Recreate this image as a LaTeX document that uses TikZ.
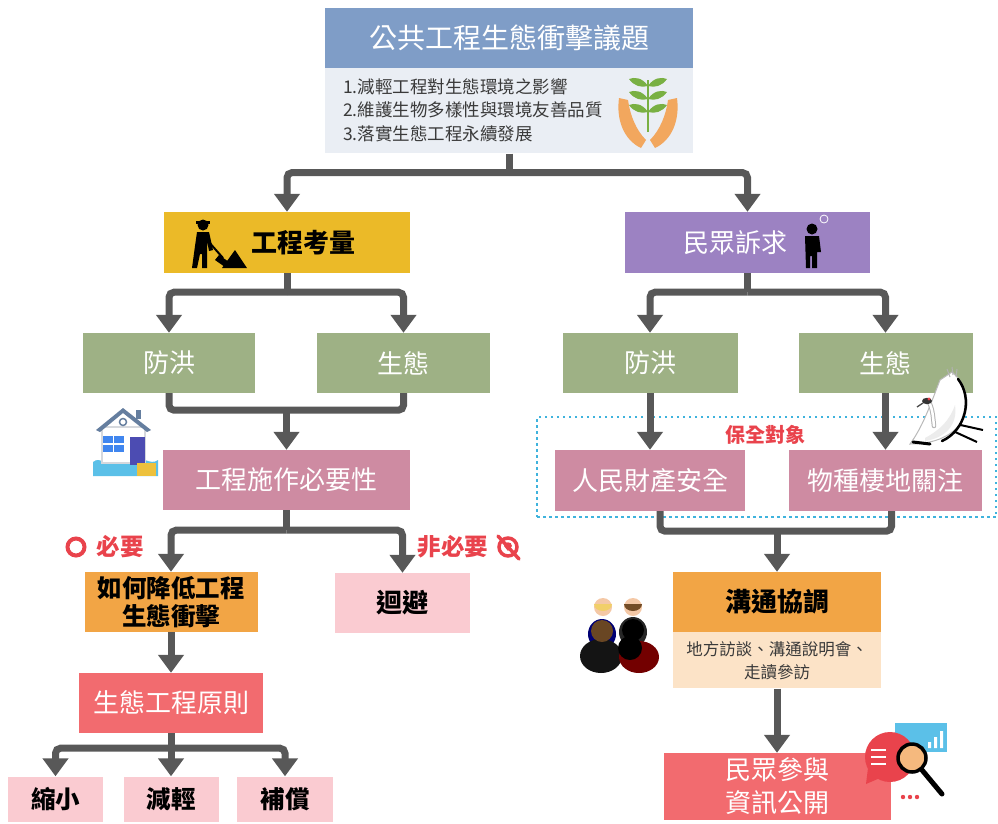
\documentclass[tikz,border=0pt]{standalone}
\usepackage{fontspec}
\setmainfont{Noto Sans CJK TC}
\usetikzlibrary{arrows.meta}
\definecolor{cTitle}{HTML}{7F9DC7}
\definecolor{cPanel}{HTML}{EAEEF4}
\definecolor{cYellow}{HTML}{EBBA28}
\definecolor{cPurple}{HTML}{9C82C2}
\definecolor{cGreen}{HTML}{9EB185}
\definecolor{cMauve}{HTML}{CE8BA2}
\definecolor{cOrange}{HTML}{F2A545}
\definecolor{cPink}{HTML}{FACBD1}
\definecolor{cSalmon}{HTML}{F26B6F}
\definecolor{cPeach}{HTML}{FCE3C7}
\definecolor{cArrow}{HTML}{585858}
\definecolor{cRed}{HTML}{E9434C}
\definecolor{cDot}{HTML}{3FB3DD}
\definecolor{cText}{HTML}{3A3A3A}
\definecolor{cSkin}{HTML}{F4C8A6}
\definecolor{cHand}{HTML}{F2A75E}
\definecolor{cLeaf}{HTML}{79B043}
\definecolor{cSky}{HTML}{5BC0E8}

\begin{document}
\begin{tikzpicture}[x=1pt,y=-1pt,
  flowbox/.style={rectangle, inner sep=0pt, align=center, font=\fontsize{26}{32}\selectfont},
  wbox/.style={flowbox, text=white},
  kbox/.style={flowbox, text=black, font=\bfseries\fontsize{26}{32}\selectfont},
  flowline/.style={draw=cArrow, line width=7pt},
  flowarrow/.style={flowline, rounded corners=5pt, -{Triangle[width=25pt,length=18pt]}},
  redlabel/.style={text=cRed, inner sep=0pt, font=\bfseries\fontsize{23.5}{26}\selectfont},
]
\useasboundingbox (0,0) rectangle (998,823);

% ---------- title block ----------
\node[wbox, fill=cTitle, minimum width=368pt, minimum height=60pt,
      font=\fontsize{28}{32}\selectfont] (t1) at (509,38) {公共工程生態衝擊議題};
\node[flowbox, fill=cPanel, minimum width=368pt, minimum height=85pt, anchor=north] (t2) at (t1.south) {};
\node[anchor=west, align=left, inner sep=0pt, text=cText,
      font=\fontsize{17.5}{23.5}\selectfont] (goals) at (343,110)
  {1.減輕工程對生態環境之影響\\2.維護生物多樣性與環境友善品質\\3.落實生態工程永續發展};
% hands holding a seedling
\fill[cHand] (619,98) .. controls (616,120) and (624,140) .. (641,148) -- (646,140)
  .. controls (636,130) and (630,115) .. (628,100) -- cycle;
\fill[cHand] (677,98) .. controls (680,120) and (672,140) .. (655,148) -- (650,140)
  .. controls (660,130) and (666,115) .. (668,100) -- cycle;
\draw[cLeaf, line width=2.5pt] (648,132) -- (648,80);
\foreach \y in {86,99,112}{
  \fill[cLeaf] (648,\y) .. controls (642,\y-9) and (634,\y-9) .. (629,\y-7)
    .. controls (634,\y) and (641,\y+2) .. (648,\y) -- cycle;
  \fill[cLeaf] (648,\y) .. controls (654,\y-9) and (662,\y-9) .. (667,\y-7)
    .. controls (662,\y) and (655,\y+2) .. (648,\y) -- cycle;
}

% ---------- second level ----------
\node[kbox, fill=cYellow, minimum width=246pt, minimum height=61pt] (kl) at (287,242.5)
  {\hspace*{32pt}工程考量};
\node[wbox, fill=cPurple, minimum width=245pt, minimum height=61pt] (mq) at (747.5,242.5)
  {民眾訴求\hspace*{24pt}};

% worker with shovel
\fill[black] (203,225) circle (5.5pt);
\fill[black] (196,221) rectangle (210,224);
\fill[black] (197,232) -- (209,232) -- (213,250) -- (209,251) -- (207,241) -- (207,268)
  -- (202,268) -- (202,254) -- (200,254) -- (197,268) -- (192,268) -- (195,246) -- cycle;
\draw[black, line width=2pt] (208,241) -- (223,258);
\fill[black] (219,255) -- (229,262) -- (225,267) -- (215,260) -- cycle;
\fill[black] (222,268) -- (235,250) -- (247,268) -- cycle;

% person asking
\fill[black] (812,229) circle (5.5pt);
\fill[black] (805,236) -- (819,236) -- (821,252) -- (817,252) -- (817,268) -- (812,268)
  -- (812,256) -- (810,256) -- (810,268) -- (806,268) -- cycle;
\draw[white, line width=0.8pt] (824,219) circle (4pt);

% ---------- third level ----------
\node[wbox, fill=cGreen, minimum width=172pt, minimum height=60pt] (fa) at (169,363) {防洪};
\node[wbox, fill=cGreen, minimum width=173pt, minimum height=60pt] (sa) at (403.5,363) {生態};
\node[wbox, fill=cGreen, minimum width=175pt, minimum height=60pt] (fb) at (650,363) {防洪};
\node[wbox, fill=cGreen, minimum width=174pt, minimum height=60pt] (sb) at (885.5,363) {生態};

% ---------- protected targets zone ----------
\node[draw=cDot, line width=2.5pt, dash pattern=on 2.5pt off 3.5pt, rectangle, inner sep=0pt,
      minimum width=459pt, minimum height=100pt] (zone) at (766.5,467) {};
\node[redlabel, font=\bfseries\fontsize{20}{24}\selectfont] (keep) at (765,435) {保全對象};

\node[wbox, fill=cMauve, minimum width=247pt, minimum height=60pt] (need) at (286.5,480) {工程施作必要性};
\node[wbox, fill=cMauve, minimum width=190pt, minimum height=61pt] (pp) at (650,480.5) {人民財產安全};
\node[wbox, fill=cMauve, minimum width=193pt, minimum height=61pt] (hb) at (885.5,480.5) {物種棲地關注};

% flooded house
\fill[cSky] (93,462) .. controls (100,456) and (106,466) .. (113,460)
  .. controls (120,455) and (126,466) .. (134,460) .. controls (142,455) and (150,466) .. (158,460)
  -- (158,476) -- (93,476) -- cycle;
\fill[cPanel!80!gray] (101,426) rectangle (146,464);
\fill[white] (103,428) rectangle (144,462);
\fill[cSky!70!blue] (103,436) rectangle (124,452);
\draw[white, line width=1.2pt] (113.5,436) -- (113.5,452) (103,444) -- (124,444);
\fill[blue!40!gray] (130,437) rectangle (145,465);
\fill[cTitle!80!black] (96,430) -- (123,408) -- (151,430) -- (147,432) -- (123,413) -- (100,432) -- cycle;
\fill[cTitle!80!black] (136,410) rectangle (141,419);
\draw[cTitle!80!black, line width=1.5pt] (123,422) circle (3.5pt);
\fill[cSky] (93,466) rectangle (140,476);
\fill[cYellow!90!white] (137,463) rectangle (156,476);

% flying crane: curved white body, dark wing edge, legs trailing to the right
\draw[black, line width=2pt] (956,424) -- (983,430) (953,431) -- (977,442);
\fill[white, draw=gray!55, line width=1pt] (952,372) .. controls (980,396) and (970,444) .. (910,444)
  .. controls (922,428) and (930,406) .. (940,380) -- cycle;
\fill[gray!15] (925,438) .. controls (940,430) and (950,420) .. (955,405)
  .. controls (958,425) and (945,438) .. (925,441) -- cycle;
\draw[black, line width=2.5pt, line cap=round] (958,379) .. controls (973,398) and (966,430) .. (942,441);
\draw[black, line width=3pt, line cap=round] (913,442) -- (930,444);
\draw[gray!60, line width=4.5pt, line cap=round] (929,402) .. controls (933,410) and (933,418) .. (934,426);
\draw[white, line width=2.5pt, line cap=round] (929,402) .. controls (933,410) and (933,418) .. (934,426);
\fill[black!80] (927,401) ellipse (5pt and 3.2pt);
\fill[cRed] (929,399) circle (1.6pt);
\draw[black!70, line width=1.3pt] (923,403) -- (917,407);
\draw[gray!60, line width=1pt] (947,369) -- (950,377) (952,367) -- (953,375) (957,369) -- (956,377);

% ---------- decision level ----------
\node[kbox, fill=cOrange, minimum width=173pt, minimum height=60pt,
      font=\bfseries\fontsize{24.5}{28}\selectfont] (hw) at (171,602) {如何降低工程\\生態衝擊};
\node[kbox, fill=cPink, minimum width=135pt, minimum height=60pt] (av) at (402.5,603) {迴避};

\node[circle, draw=cRed, line width=4pt, minimum size=17pt, inner sep=0pt] (yesmark) at (76,547) {};
\node[redlabel] (yes) at (120,547) {必要};
\node[redlabel] (no) at (453,547) {非必要};
\node[circle, draw=cRed, line width=3.5pt, minimum size=18pt, inner sep=0pt] (nomark) at (508,547) {};
\fill[cRed] (508,551) -- (504,546) .. controls (504,541) and (512,541) .. (512,546) -- cycle;
\draw[cRed, line width=3.5pt, line cap=round] (498,536) -- (519,559);

\node[wbox, fill=cSalmon, minimum width=184pt, minimum height=60pt] (ep) at (171,703) {生態工程原則};
\node[kbox, fill=cPink, minimum width=95pt, minimum height=45pt,
      font=\bfseries\fontsize{24.5}{28}\selectfont] (s1) at (55.5,799) {縮小};
\node[kbox, fill=cPink, minimum width=95pt, minimum height=45pt,
      font=\bfseries\fontsize{24.5}{28}\selectfont] (s2) at (171,799) {減輕};
\node[kbox, fill=cPink, minimum width=96pt, minimum height=45pt,
      font=\bfseries\fontsize{24.5}{28}\selectfont] (s3) at (285,799) {補償};

% ---------- communication ----------
\node[kbox, fill=cOrange, minimum width=208pt, minimum height=60pt] (ct) at (777,602) {溝通協調};
\node[flowbox, fill=cPeach, minimum width=208pt, minimum height=56pt, anchor=north, text=cText,
      font=\fontsize{16.5}{23}\selectfont] (ctl) at (ct.south) {地方訪談、溝通說明會、\\走讀參訪};

% people talking
\fill[blue!45!black] (602,634) ellipse (14pt and 15pt);
\fill[cSkin] (603,607) circle (9pt);
\fill[cYellow!70!white] (594,604) arc (180:360:9pt and 7pt) -- cycle;
\fill[black!85] (633,632) ellipse (14pt and 15pt);
\fill[cSkin] (633,607) circle (9pt);
\fill[brown!60!black] (624,604) arc (180:360:9pt and 7pt) -- cycle;
\fill[black!92] (601,656) ellipse (21pt and 17pt);
\fill[brown!55!black] (602,631) circle (11pt);
\fill[red!45!black] (639,657) ellipse (20pt and 16pt);
\fill[black] (630,648) ellipse (12pt and 12pt);
\fill[black] (633,630) circle (11pt);

\node[wbox, fill=cSalmon, minimum width=227pt, minimum height=67pt,
      font=\fontsize{26}{33}\selectfont] (pu) at (777,786.5) {民眾參與\\資訊公開};

% search bubble
\fill[cSky] (895,723) rectangle (947,752);
\fill[white] (928,742) rectangle (931,748) (934,737) rectangle (937,748) (940,731) rectangle (943,748);
\fill[cRed] (890,757) circle (25pt);
\fill[cRed] (868,768) -- (866,784) -- (880,778) -- cycle;
\draw[white, line width=2.2pt] (871,750) -- (886,750) (871,757) -- (886,757) (871,764) -- (886,764);
\draw[black, line width=5pt, line cap=round] (922,770) -- (942,794);
\fill[cHand!80!white] (912,758) circle (13pt);
\draw[black, line width=3.5pt] (912,758) circle (14pt);
\fill[cRed] (903,797) circle (2.2pt) (910,797) circle (2.2pt) (917,797) circle (2.2pt);

% ---------- connectors ----------
\draw[flowline] (t2.south) -- ++(0,19) coordinate (j0);
\draw[flowarrow] (j0) -| (kl.north);
\draw[flowarrow] (j0) -| (mq.north);

\draw[flowline] (kl.south) -- ++(0,19) coordinate (j1);
\draw[flowarrow] (j1) -| (fa.north);
\draw[flowarrow] (j1) -| (sa.north);
\draw[flowline, rounded corners=5pt] (fa.south) -- ++(0,17) coordinate (m1) -| (sa.south);
\draw[flowarrow] (m1 -| need.north) -- (need.north);

\draw[flowline] (need.south) -- ++(0,20) coordinate (j2);
\draw[flowarrow] (j2) -| (hw.north);
\draw[flowarrow] (j2) -| (av.north);
\draw[flowarrow] (hw.south) -- (ep.north);
\draw[flowline] (ep.south) -- ++(0,15) coordinate (j3);
\draw[flowarrow] (j3) -| (s1.north);
\draw[flowarrow] (j3) -| (s3.north);
\draw[flowarrow] (j3) -- (s2.north);

\draw[flowline] (mq.south) -- ++(0,19) coordinate (j4);
\draw[flowarrow] (j4) -| (fb.north);
\draw[flowarrow] (j4) -| (sb.north);
\draw[flowarrow] (fb.south) -- (pp.north);
\draw[flowarrow] (sb.south) -- (hb.north);
\draw[flowline, rounded corners=5pt] ([xshift=10pt]pp.south) -- ++(0,20) coordinate (m2) -| ([xshift=6pt]hb.south);
\draw[flowarrow] (m2 -| ct.north) -- (ct.north);
\draw[flowarrow] (ctl.south) -- (pu.north);

\end{tikzpicture}
\end{document}
